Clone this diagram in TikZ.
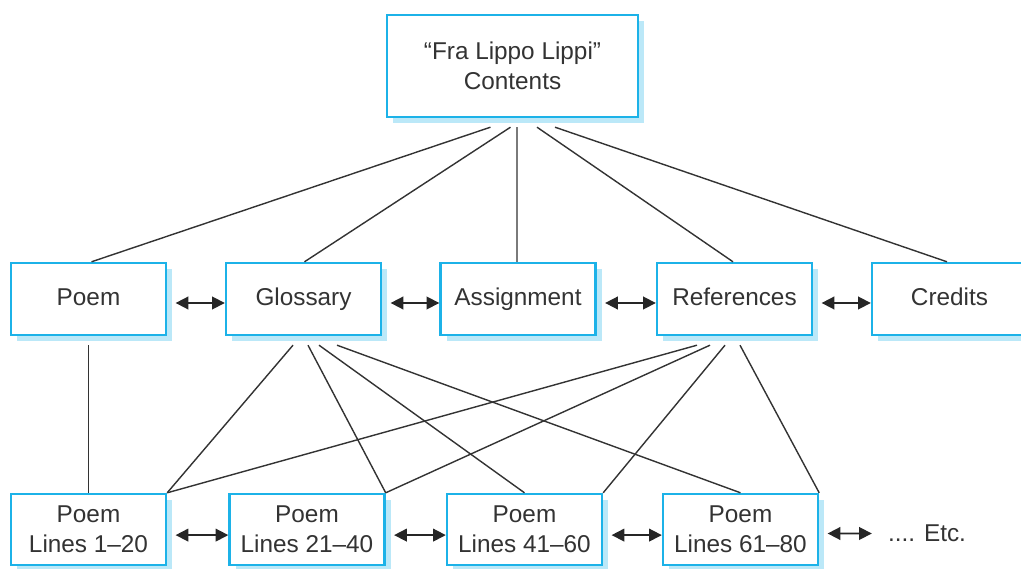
\documentclass[tikz,border=0pt]{standalone}
\usepackage{fontspec}
\setmainfont{Liberation Sans}
\usetikzlibrary{arrows.meta}
\usetikzlibrary{shadows}
\definecolor{boxblue}{RGB}{28,178,232}
\definecolor{inkgrey}{RGB}{51,51,51}

\begin{document}
\begin{tikzpicture}[x=0.025cm,y=-0.025cm,
  box/.style={draw=boxblue,line width=1.7pt,fill=white,align=center,
    text=inkgrey,font=\fontsize{17.3}{21.5}\selectfont,
    minimum width=155*0.025cm,minimum height=72*0.025cm,inner sep=0pt,
    drop shadow={shadow xshift=4.5pt,shadow yshift=-4.5pt,fill=boxblue!30,opacity=1}},
  sect/.style={box,text height=0.95em,text depth=0pt},
  link/.style={draw=inkgrey,line width=1pt},
  dbl/.style={draw=black!85,line width=1.2pt,
    {Triangle[length=9pt,width=9pt]}-{Triangle[length=9pt,width=9pt]}}]
\useasboundingbox (0,0) rectangle (1021,569);

\node[box,minimum width=251*0.025cm,minimum height=102*0.025cm] (top) at (512.5,66) {“Fra Lippo Lippi”\\Contents};

\node[sect] (poem) at (88.5,299) {Poem};
\node[sect] (gloss) at (303.5,299) {Glossary};
\node[sect] (assign) at (518,299) {Assignment};
\node[sect] (refs) at (734.5,299) {References};
\node[sect] (credits) at (949.5,299) {Credits};

\node[box,minimum height=71*0.025cm] (l1) at (88.5,529.5) {Poem\\Lines 1–20};
\node[box,minimum height=71*0.025cm] (l21) at (307,529.5) {Poem\\Lines 21–40};
\node[box,minimum height=71*0.025cm] (l41) at (524.5,529.5) {Poem\\Lines 41–60};
\node[box,minimum height=71*0.025cm] (l61) at (740.5,529.5) {Poem\\Lines 61–80};
\node[text=inkgrey,font=\fontsize{17.3}{21.5}\selectfont] (etc) at (927,533.5) {.... Etc.};

% contents to sections
\foreach \dx/\t/\tx in {-22/poem/3,-2/gloss/1,4.5/assign/-1,24.5/refs/-1.5,42.5/credits/-2.5}
  \draw[link] ([shift={(\dx,9)}]top.south) -- ([shift={(\tx,0)}]\t.north);

% sections to poem parts
\draw[link] ([shift={(0,9)}]poem.south) -- (l1.north);
\foreach \dx/\t in {-10.5/l1.north east,4.5/l21.north east,15.5/l41.north,33.5/l61.north}
  \draw[link] ([shift={(\dx,9)}]gloss.south) -- (\t);
\foreach \dx/\t in {-37.5/l1.north east,-24.5/l21.north east,-9.5/l41.north east,5.5/l61.north east}
  \draw[link] ([shift={(\dx,9)}]refs.south) -- (\t);

% navigation
\draw[dbl,shorten <=6pt] ([yshift=-0.1cm]poem.east) -- ([yshift=-0.1cm]gloss.west);
\draw[dbl,shorten <=6pt] ([yshift=-0.1cm]gloss.east) -- ([yshift=-0.1cm]assign.west);
\draw[dbl,shorten <=6pt] ([yshift=-0.1cm]assign.east) -- ([yshift=-0.1cm]refs.west);
\draw[dbl,shorten <=6pt] ([yshift=-0.1cm]refs.east) -- ([yshift=-0.1cm]credits.west);
\draw[dbl,shorten <=6pt] ([yshift=-0.14cm]l1.east) -- ([yshift=-0.14cm]l21.west);
\draw[dbl,shorten <=6pt] ([yshift=-0.14cm]l21.east) -- ([yshift=-0.14cm]l41.west);
\draw[dbl,shorten <=6pt] ([yshift=-0.14cm]l41.east) -- ([yshift=-0.14cm]l61.west);
\draw[dbl,shorten <=6pt,shorten >=8pt] ([yshift=-0.1cm]l61.east) -- (etc.west);

\end{tikzpicture}
\end{document}
